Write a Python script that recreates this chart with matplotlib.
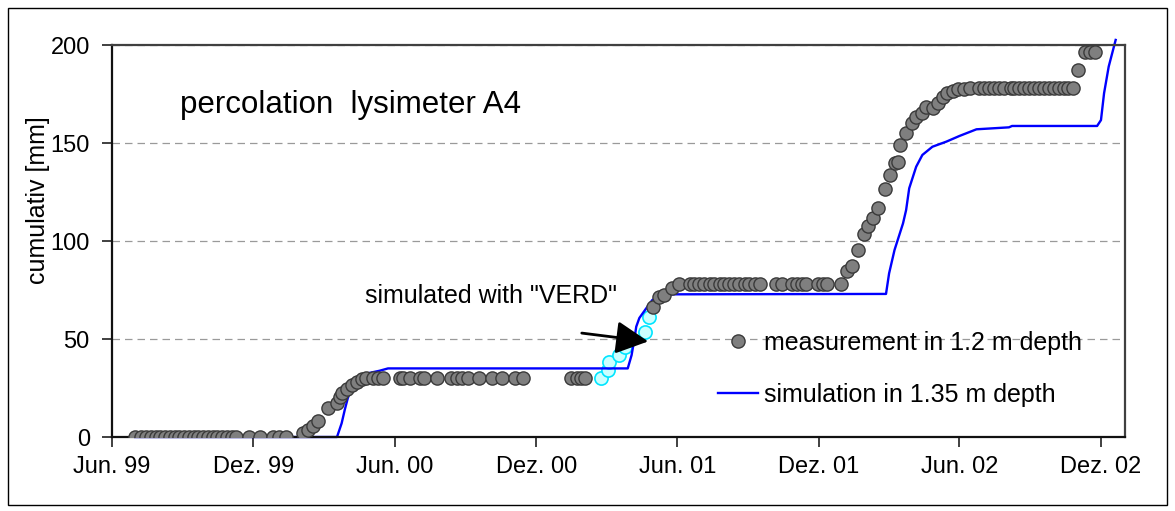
import numpy as np
import matplotlib
matplotlib.use('Agg')
import matplotlib.pyplot as plt
import matplotlib.dates as mdates
from matplotlib.patches import Rectangle
from matplotlib.lines import Line2D

plt.rcParams['font.family'] = ['Liberation Sans', 'DejaVu Sans']

# measured cumulative percolation, lysimeter A4 (1.2 m depth)
meas_dates = [
    '1999-07-01', '1999-07-08', '1999-07-15', '1999-07-21', '1999-07-28', '1999-08-02',
    '1999-08-08', '1999-08-15', '1999-08-21', '1999-08-27', '1999-09-02', '1999-09-08',
    '1999-09-15', '1999-09-20', '1999-09-27', '1999-10-03', '1999-10-09', '1999-10-15',
    '1999-10-21', '1999-10-28', '1999-11-03', '1999-11-09', '1999-11-25', '1999-12-10',
    '1999-12-26', '2000-01-03', '2000-01-12',
    '2000-02-03', '2000-02-09', '2000-02-16', '2000-02-22', '2000-03-06', '2000-03-18',
    '2000-03-22', '2000-03-25', '2000-03-31', '2000-04-06', '2000-04-13', '2000-04-19',
    '2000-04-25', '2000-05-03', '2000-05-10', '2000-05-16', '2000-06-07', '2000-06-12',
    '2000-06-20', '2000-07-03', '2000-07-09', '2000-07-25', '2000-08-13', '2000-08-20',
    '2000-08-27', '2000-09-03', '2000-09-18', '2000-10-04', '2000-10-18', '2000-11-03',
    '2000-11-14', '2001-01-15', '2001-01-22', '2001-01-28', '2001-02-02',
    '2001-05-01', '2001-05-09', '2001-05-15', '2001-05-25', '2001-06-03',
    '2001-06-17', '2001-06-23', '2001-06-29', '2001-07-06', '2001-07-13', '2001-07-19',
    '2001-07-26', '2001-08-01', '2001-08-07', '2001-08-14', '2001-08-20', '2001-08-27',
    '2001-09-02', '2001-09-09', '2001-09-16', '2001-10-07', '2001-10-14', '2001-10-28',
    '2001-11-03', '2001-11-10', '2001-11-15', '2001-11-30', '2001-12-07', '2001-12-12',
    '2001-12-30',
    '2002-01-06', '2002-01-13', '2002-01-21', '2002-01-28', '2002-02-03', '2002-02-09',
    '2002-02-16', '2002-02-25', '2002-03-03', '2002-03-10', '2002-03-13', '2002-03-16',
    '2002-03-24', '2002-03-31', '2002-04-06', '2002-04-13', '2002-04-19', '2002-04-28',
    '2002-05-04', '2002-05-11', '2002-05-16', '2002-05-23', '2002-05-30', '2002-06-07',
    '2002-06-15',
    '2002-06-26', '2002-07-03', '2002-07-09', '2002-07-16', '2002-07-22', '2002-07-29',
    '2002-08-06', '2002-08-11', '2002-08-17', '2002-08-24', '2002-08-30', '2002-09-06',
    '2002-09-12', '2002-09-18', '2002-09-25', '2002-10-01', '2002-10-08', '2002-10-14',
    '2002-10-19', '2002-10-26', '2002-11-01', '2002-11-10', '2002-11-17', '2002-11-23',
]
meas_vals = (
    [0] * 27
    + [2, 3.6, 5.6, 8.2, 14.8, 17.3, 20.4, 22.4, 24.5, 26.5, 28, 29.6]
    + [30] * 23
    + [66.5, 71.4, 72.4, 75.9, 78]
    + [78] * 25
    + [84.9, 87.4, 95.4, 103.4, 107.8, 111.6, 117, 126.4, 133.5, 139.6, 140.5, 148.8,
       155.3, 160, 163.4, 165.5, 168.2, 168, 170.6, 173.6, 175.7, 176.7, 177.4, 177.4, 178.2]
    + [178.2] * 20
    + [187.2, 196.6, 196.6, 196.6]
)

# measurements replaced by the VERD simulation
verd_dates = ['2001-02-23', '2001-03-03', '2001-03-05', '2001-03-18',
              '2001-03-26', '2001-03-31', '2001-04-20', '2001-04-26']
verd_vals = [30, 34, 38.4, 41.8, 45.8, 49.5, 53.7, 61]

# simulation in 1.35 m depth
sim_dates = [
    '1999-07-01', '2000-03-18', '2000-03-24', '2000-03-28', '2000-04-01', '2000-04-07',
    '2000-04-16', '2000-04-29', '2000-05-12', '2000-05-23', '2001-03-29', '2001-04-03',
    '2001-04-07', '2001-04-09', '2001-04-13', '2001-04-22', '2001-04-30', '2001-05-13',
    '2001-05-26', '2002-02-26', '2002-03-02', '2002-03-09', '2002-03-20', '2002-03-24',
    '2002-03-28', '2002-04-06', '2002-04-14', '2002-04-27', '2002-05-15', '2002-06-01',
    '2002-06-23', '2002-08-04', '2002-08-08', '2002-11-26', '2002-12-01', '2002-12-05',
    '2002-12-11', '2002-12-20',
]
sim_vals = [0, 0, 7, 13.8, 19.9, 25.7, 30, 32.7, 33.8, 35,
            35, 41.8, 51, 56.3, 60.7, 65.7, 70, 71.6, 72.8,
            73, 83.5, 95.4, 109, 115.8, 126.9, 137.9, 143.9, 148.1, 150.7,
            153.6, 157, 158, 158.7, 158.7, 161.7, 175.4, 189, 202.6]

tick_dates = ['1999-06-01', '1999-12-01', '2000-06-01', '2000-12-01',
              '2001-06-01', '2001-12-01', '2002-06-01', '2002-12-01']
tick_labels = ['Jun. 99', 'Dez. 99', 'Jun. 00', 'Dez. 00',
               'Jun. 01', 'Dez. 01', 'Jun. 02', 'Dez. 02']


def to_num(dates):
    return mdates.datestr2num(dates)


fig = plt.figure(figsize=(11.75, 5.11), dpi=100)
ax = fig.add_axes([0.0953, 0.1448, 0.8621, 0.7671])

ax.plot(to_num(verd_dates), verd_vals, ls='none', marker='o', ms=9.5,
        mfc='#ccffff', mec='#00e5ff', mew=1.2, zorder=2)
ax.plot(to_num(sim_dates), sim_vals, color='#0000ff', lw=1.7, zorder=2.5, clip_on=False)
ax.plot(to_num(meas_dates), meas_vals, ls='none', marker='o', ms=9.5,
        mfc='#7f7f7f', mec='#3a3a3a', mew=1.0, zorder=3)

ax.set_xlim(to_num(['1999-06-01'])[0], to_num(['2003-01-01'])[0])
ax.set_ylim(0, 200)
ax.set_xticks(to_num(tick_dates))
ax.set_xticklabels(tick_labels)
ax.set_yticks([0, 50, 100, 150, 200])
ax.tick_params(axis='both', labelsize=17, direction='out', length=7, width=1.2, color='#202020')
ax.tick_params(axis='x', pad=7)
ax.tick_params(axis='y', pad=9)
ax.yaxis.grid(True, linestyle=(0, (6, 4)), color='#9a9a9a', lw=0.9)
ax.set_axisbelow(True)

for side in ['left', 'bottom']:
    ax.spines[side].set_linewidth(1.6)
    ax.spines[side].set_color('#111111')
for side in ['top', 'right']:
    ax.spines[side].set_linewidth(1.6)
    ax.spines[side].set_color('#404040')

fig.text(38 / 1175, 1 - 200 / 511, 'cumulativ [mm]', rotation=90, fontsize=18,
         ha='center', va='center')

ax.text(0.067, 0.847, 'percolation  lysimeter A4', transform=ax.transAxes,
        fontsize=22.5, ha='left', va='center')

ax.text(to_num(['2000-04-23'])[0], 72, 'simulated with "VERD"', fontsize=18,
        ha='left', va='center')
ax.annotate('', xy=(to_num(['2001-04-28'])[0], 48.6), xytext=(to_num(['2001-01-25'])[0], 53.2),
            arrowprops=dict(arrowstyle='-|>,head_length=0.55,head_width=0.28',
                            mutation_scale=36, lw=2, color='black'))

handles = [Line2D([], [], ls='none', marker='o', ms=9.5, mfc='#7f7f7f', mec='#3a3a3a'),
           Line2D([], [], color='#0000ff', lw=1.7)]
ax.legend(handles, ['measurement in 1.2 m depth', 'simulation in 1.35 m depth'],
          loc='upper left', bbox_to_anchor=(0.598, 0.27), frameon=False,
          fontsize=18, handlelength=1.6, handletextpad=0.25, labelspacing=1.1,
          borderpad=0, borderaxespad=0)

fig.patches.append(Rectangle((8 / 1175, 6 / 511), 1159 / 1175, 497 / 511,
                             transform=fig.transFigure, fill=False, lw=1, ec='black'))

fig.savefig('out.png', dpi=100)
